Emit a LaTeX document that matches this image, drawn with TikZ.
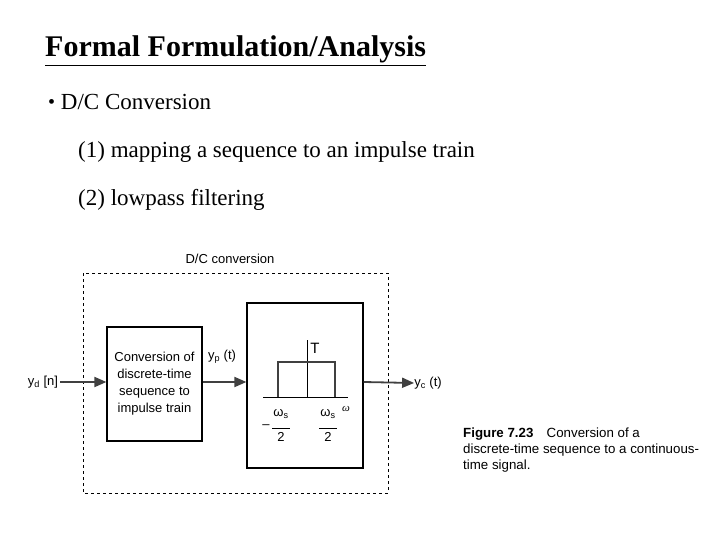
\documentclass[tikz,border=0pt]{standalone}
\usepackage{fontspec}
\setmainfont{Liberation Serif}
\newfontfamily\dsans{Liberation Sans}
\usetikzlibrary{arrows.meta}
\newcommand{\sfrac}[1]{\begin{tabular}{@{}c@{}}#1\\[-2pt]\rule{18pt}{0.7pt}\\[-1pt]2\end{tabular}}
\begin{document}
\begin{tikzpicture}[x=1pt,y=-1pt,
  dtxt/.style={font=\dsans\fontsize{13}{14}\selectfont, inner sep=0pt},
  blk/.style={draw, line width=1.2pt},
  arr/.style={-{Triangle[length=12pt,width=10pt]}, line width=1.8pt, draw=black!75}]
\useasboundingbox (0,0) rectangle (720,540);
\node[anchor=base west, inner sep=0pt, font=\fontsize{30}{32}\selectfont\bfseries] (title) at (45,57) {\underline{Formal Formulation/Analysis}};
\node[anchor=base west, inner sep=0pt, font=\fontsize{23}{26}\selectfont] (b1) at (48,110) {\raisebox{1pt}{\fontsize{20}{20}\selectfont\textbullet} D/C Conversion};
\node[anchor=base west, inner sep=0pt, font=\fontsize{23}{26}\selectfont] (s1) at (78,158) {(1) mapping a sequence to an impulse train};
\node[anchor=base west, inner sep=0pt, font=\fontsize{23}{26}\selectfont] (s2) at (78,206) {(2) lowpass filtering};
% dashed box
\draw[dashed, line width=0.9pt] (83,273) rectangle (388,493);
\node[dtxt] (dclab) at (230,259) {D/C conversion};
\node[blk, minimum width=95pt, minimum height=114pt, inner sep=0pt, align=center, dtxt] (conv) at (154.5,384) {Conversion of\\[3pt]discrete-time\\[3pt]sequence to\\[3pt]impulse train};
\node[blk, minimum width=116pt, minimum height=165pt, inner sep=0pt] (filt) at (305,385.5) {};
\node[dtxt] (yd) at (43,382) {y\textsubscript{d} [n]};
\node[dtxt] (yp) at (222,357) {y\textsubscript{p} (t)};
\node[dtxt] (yc) at (428,383) {y\textsubscript{c} (t)};
\coordinate (inS) at (60,382);
\draw[arr] (inS) -- (conv.west |- inS);
\draw[arr] (conv.east |- inS) -- (filt.west |- inS);
\draw[arr] (filt.east |- inS) -- (yc.west);
% filter drawing
\coordinate (bl) at (263,397); \coordinate (br) at (348,397);
\draw[line width=0.9pt] (bl) -- (br);
\draw[line width=0.6pt] (307,340) -- (307,397);
\draw[line width=1.5pt, draw=black!75] (278,397) -- (278,362) -- (335,362) -- (335,397);
\node[dtxt, font=\dsans\fontsize{15}{15}\selectfont] (T) at (315,348) {T};
\node[dtxt, font=\fontsize{11}{11}\selectfont\itshape] (om) at (346,409) {ω};
\node[dtxt] (mi) at (266,427) {–};
\node[dtxt] (f1) at (281,426) {\sfrac{ω\textsubscript{s}}};
\node[dtxt] (f2) at (328,426) {\sfrac{ω\textsubscript{s}}};
% caption
\node[anchor=north west, inner sep=0pt, align=left, font=\dsans\fontsize{13.3}{16}\selectfont] (cap) at (463,428) {{\bfseries Figure 7.23}\quad Conversion of a\\discrete-time sequence to a continuous-\\time signal.};
\end{tikzpicture}
\end{document}
